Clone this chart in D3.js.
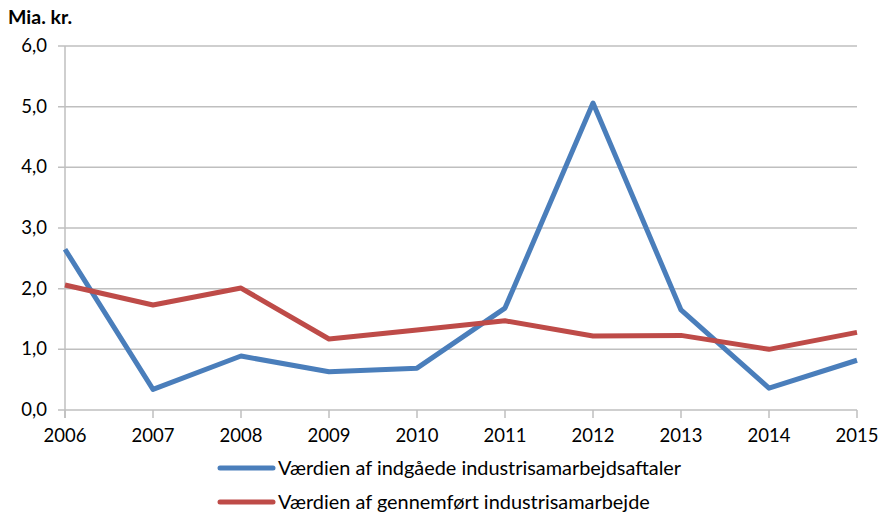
<!DOCTYPE html>
<html>
<head>
<meta charset="utf-8">
<script src="https://cdn.jsdelivr.net/npm/d3@7"></script>
<style>
  body { margin: 0; background: #fff; }
  text { font-family: Lato, "Open Sans", sans-serif; fill: #000; }
</style>
</head>
<body>
<div id="app"></div>
<script>
const years = [2006, 2007, 2008, 2009, 2010, 2011, 2012, 2013, 2014, 2015];
const indgaaede = [2.65, 0.34, 0.89, 0.63, 0.69, 1.68, 5.06, 1.65, 0.36, 0.82];
const gennemfoert = [2.06, 1.73, 2.01, 1.17, 1.32, 1.47, 1.22, 1.23, 1.0, 1.28];
const yTicks = [0, 1, 2, 3, 4, 5, 6];
const seriesNames = ['Værdien af indgåede industrisamarbejdsaftaler', 'Værdien af gennemført industrisamarbejde'];
const colors = ['#4a7ebb', '#be4b48'];

const width = 879, height = 514;
const svg = d3.select('#app').append('svg').attr('width', width).attr('height', height);
const margin = { top: 46, right: 22, bottom: 104, left: 65 };

const x = d3.scalePoint().domain(years).range([margin.left, width - margin.right]);
const y = d3.scaleLinear().domain([0, 6]).range([height - margin.bottom, margin.top]);

// gridlines
svg.append('g').selectAll('line').data(yTicks).join('line')
    .attr('x1', margin.left - 7).attr('x2', width - margin.right)
    .attr('y1', d => y(d)).attr('y2', d => y(d))
    .attr('stroke', '#bfbfbf').attr('stroke-width', 1.5);

// y axis line
svg.append('line')
    .attr('x1', margin.left).attr('x2', margin.left)
    .attr('y1', y(6)).attr('y2', y(0) + 8)
    .attr('stroke', '#bfbfbf').attr('stroke-width', 1.5);

// x ticks
svg.append('g').selectAll('line').data(years).join('line')
    .attr('x1', d => x(d)).attr('x2', d => x(d))
    .attr('y1', y(0)).attr('y2', y(0) + 8)
    .attr('stroke', '#bfbfbf').attr('stroke-width', 1.5);

// y labels
svg.append('g').selectAll('text').data(yTicks).join('text')
    .attr('x', margin.left - 18).attr('y', d => y(d) + 6)
    .attr('text-anchor', 'end').attr('font-size', 18.5)
    .text(d => d3.format('.1f')(d).replace('.', ','));

// x labels
svg.append('g').selectAll('text').data(years).join('text')
    .attr('x', d => x(d)).attr('y', y(0) + 32)
    .attr('text-anchor', 'middle').attr('font-size', 18.5)
    .text(d => d);

svg.append('text').attr('x', 8).attr('y', 24)
    .attr('font-size', 19.5).attr('font-weight', 'bold').text('Mia. kr.');

const line = d3.line().x((d, i) => x(years[i])).y(d => y(d));
[indgaaede, gennemfoert].forEach((s, i) => {
    svg.append('path').datum(s)
        .attr('fill', 'none').attr('stroke', colors[i]).attr('stroke-width', 5)
        .attr('stroke-linejoin', 'round')
        .attr('d', line);
});

// legend
const lg = svg.append('g').selectAll('g').data(seriesNames).join('g')
    .attr('transform', (d, i) => `translate(220, ${468 + i * 34})`);
lg.append('line').attr('x1', 0).attr('x2', 53).attr('y1', 0).attr('y2', 0)
    .attr('stroke', (d, i) => colors[i]).attr('stroke-width', 5).attr('stroke-linecap', 'round');
lg.append('text').attr('x', 58).attr('y', 7).attr('font-size', 19.9).text(d => d);
</script>
</body>
</html>
